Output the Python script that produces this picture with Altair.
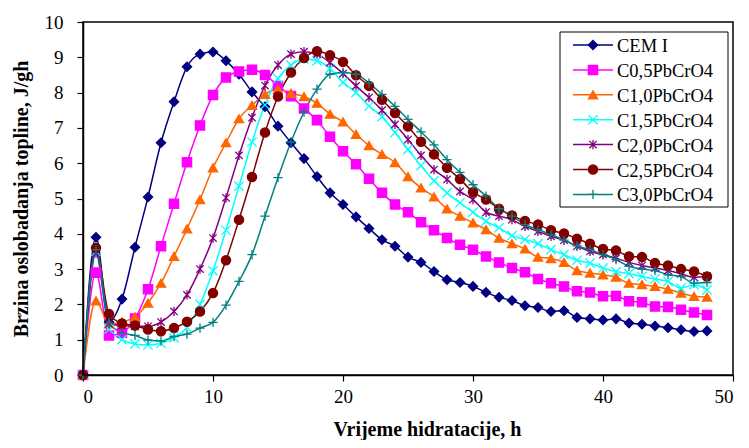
import altair as alt
import pandas as pd

hours = list(range(49))

series_names = ["CEM I", "C0,5PbCrO4", "C1,0PbCrO4", "C1,5PbCrO4",
                "C2,0PbCrO4", "C2,5PbCrO4", "C3,0PbCrO4"]

cem1 = [0, 3.9, 1.5, 2.15, 3.62, 5.04, 6.58, 7.74, 8.73, 9.09, 9.15, 8.9, 8.52, 8.02, 7.6,
        7.05, 6.58, 6.13, 5.62, 5.16, 4.83, 4.48, 4.15, 3.83, 3.65, 3.34, 3.19, 2.93, 2.7,
        2.62, 2.51, 2.34, 2.2, 2.11, 1.96, 1.91, 1.8, 1.82, 1.63, 1.59, 1.56, 1.59, 1.47,
        1.44, 1.39, 1.34, 1.28, 1.23, 1.25]
c05 = [0, 2.9, 1.12, 1.2, 1.6, 2.43, 3.65, 4.85, 6.03, 7.07, 7.93, 8.43, 8.6, 8.65, 8.5,
       8.19, 7.9, 7.55, 7.22, 6.75, 6.34, 5.97, 5.56, 5.16, 4.83, 4.61, 4.33, 4.1, 3.88,
       3.69, 3.55, 3.36, 3.19, 3.03, 2.91, 2.72, 2.6, 2.51, 2.37, 2.34, 2.23, 2.24, 2.09,
       2.06, 1.94, 1.93, 1.85, 1.77, 1.7]
c10 = [0, 2.1, 1.45, 1.5, 1.65, 2.04, 2.6, 3.36, 4.14, 4.97, 5.87, 6.58, 7.26, 7.64, 7.95,
       8.1, 7.98, 7.89, 7.7, 7.39, 7.17, 6.82, 6.5, 6.25, 6.02, 5.62, 5.3, 5.05, 4.71,
       4.5, 4.31, 4.12, 3.88, 3.72, 3.57, 3.34, 3.3, 3.19, 2.96, 2.89, 2.84, 2.77, 2.6,
       2.56, 2.51, 2.43, 2.32, 2.23, 2.21]
c15 = [0, 3.5, 1.3, 1.0, 0.88, 0.85, 0.9, 1.05, 1.35, 2.0, 2.95, 4.1, 5.35, 6.6, 7.65,
       8.4, 8.78, 8.95, 8.9, 8.68, 8.29, 8.0, 7.62, 7.32, 6.87, 6.39, 5.93, 5.5, 5.16,
       4.88, 4.61, 4.36, 4.17, 3.95, 3.84, 3.72, 3.55, 3.41, 3.25, 3.17, 3.03, 2.93, 2.87,
       2.79, 2.72, 2.65, 2.46, 2.56, 2.41]
c20 = [0, 3.45, 1.45, 1.4, 1.38, 1.38, 1.5, 1.8, 2.27, 3.0, 3.88, 5.02, 6.22, 7.29, 8.2,
       8.78, 9.09, 9.16, 9.09, 8.85, 8.54, 8.19, 7.86, 7.5, 7.1, 6.67, 6.22, 5.82, 5.54,
       5.2, 4.97, 4.61, 4.5, 4.4, 4.21, 4.07, 3.93, 3.82, 3.65, 3.5, 3.41, 3.31, 3.19,
       3.1, 3.03, 2.96, 2.87, 2.77, 2.8]
c25 = [0, 3.6, 1.73, 1.46, 1.4, 1.29, 1.24, 1.33, 1.51, 1.8, 2.32, 3.25, 4.4, 5.61, 6.87,
       7.89, 8.57, 8.98, 9.17, 9.06, 8.87, 8.49, 8.19, 7.8, 7.42, 7.04, 6.61, 6.25, 5.87,
       5.55, 5.18, 4.97, 4.71, 4.52, 4.36, 4.26, 4.1, 4.01, 3.86, 3.72, 3.57, 3.53, 3.36,
       3.34, 3.17, 3.1, 3.0, 2.93, 2.79]
c30 = [0, 3.55, 1.47, 1.2, 1.12, 0.99, 0.96, 1.09, 1.16, 1.33, 1.49, 1.98, 2.65, 3.41, 4.5,
       5.59, 6.6, 7.45, 8.1, 8.52, 8.57, 8.52, 8.27, 7.95, 7.61, 7.24, 6.89, 6.52, 6.1,
       5.74, 5.39, 5.07, 4.71, 4.5, 4.26, 4.12, 3.98, 3.82, 3.66, 3.55, 3.41, 3.27, 3.08,
       3.0, 2.96, 2.84, 2.79, 2.6, 2.62]

all_series = [cem1, c05, c10, c15, c20, c25, c30]

colors = ["#000080", "#FF00FF", "#FF6600", "#00FFFF", "#800080", "#800000", "#008080"]

X_PATH = "M-1,-1L1,1M-1,1L1,-1"
AST_PATH = "M-0.8,-0.8L0.8,0.8M-0.8,0.8L0.8,-0.8M0,-1L0,1"
PLUS_PATH = "M0,-1L0,1M-1,0L1,0"
shapes = ["diamond", "square", "triangle-up", X_PATH, AST_PATH, "circle", PLUS_PATH]

rows = []
for name, vals in zip(series_names, all_series):
    for t, v in zip(hours, vals):
        rows.append({"t": t, "v": v, "s": name})
df = pd.DataFrame(rows)

FONT = "Liberation Serif"
W, H = 650, 353
MSIZE = 85

x_enc = alt.X("t:Q",
              scale=alt.Scale(domain=[0, 50], nice=False),
              axis=alt.Axis(values=[0, 10, 20, 30, 40, 50], title="Vrijeme hidratacije, h",
                            grid=False, tickSize=6, labelPadding=6, titleX=344,
                            titlePadding=13))
y_enc = alt.Y("v:Q",
              scale=alt.Scale(domain=[0, 10], nice=False),
              axis=alt.Axis(values=list(range(11)), title="Brzina oslobadanja topline, J/gh",
                            grid=False, tickSize=6, labelPadding=14, titlePadding=13))

lines = alt.Chart(df).mark_line(strokeWidth=1.5, interpolate="monotone").encode(
    x=x_enc, y=y_enc,
    color=alt.Color("s:N", scale=alt.Scale(domain=series_names, range=colors), legend=None),
    detail="s:N",
)

points = alt.Chart(df).mark_point(filled=True, opacity=1, size=MSIZE, strokeWidth=1.3).encode(
    x=x_enc, y=y_enc,
    fill=alt.Fill("s:N", scale=alt.Scale(domain=series_names, range=colors), legend=None),
    stroke=alt.Stroke("s:N", scale=alt.Scale(domain=series_names, range=colors), legend=None),
    shape=alt.Shape("s:N", scale=alt.Scale(domain=series_names, range=shapes), legend=None),
)

one = pd.DataFrame({"k": [0]})

# plot frame
frame = alt.Chart(one).mark_rect(fillOpacity=0, stroke="black", strokeWidth=1.5).encode(
    x=alt.value(0), x2=alt.value(W), y=alt.value(0), y2=alt.value(H))

# legend box and entries
box = alt.Chart(one).mark_rect(fill="white", stroke="black", strokeWidth=1).encode(
    x=alt.value(477), x2=alt.value(645), y=alt.value(10), y2=alt.value(185))

legend_layers = [box]
for i, (name, col, shp) in enumerate(zip(series_names, colors, shapes)):
    ly = 23 + i * 24.9
    legend_layers.append(
        alt.Chart(one).mark_rule(color=col, strokeWidth=1.5).encode(
            x=alt.value(490), x2=alt.value(530), y=alt.value(ly)))
    legend_layers.append(
        alt.Chart(one).mark_point(filled=True, opacity=1, size=MSIZE, strokeWidth=1.3,
                                  shape=shp, fill=col, stroke=col).encode(
            x=alt.value(510), y=alt.value(ly)))
    legend_layers.append(
        alt.Chart(one).mark_text(align="left", baseline="middle", font=FONT,
                                 fontSize=18.5, color="black", text=name).encode(
            x=alt.value(534), y=alt.value(ly + 1)))

chart = alt.layer(lines, points, frame, *legend_layers).properties(
    width=W, height=H,
    padding={"left": 75, "top": 14, "right": 8, "bottom": 65},
    autosize=alt.AutoSizeParams(type="none"),
    background="white",
).configure_view(
    stroke=None
).configure_axis(
    labelFont=FONT, labelFontSize=19, labelColor="black",
    titleFont=FONT, titleFontSize=20, titleFontWeight="bold", titleColor="black",
    domainColor="black", domainWidth=1.5, tickColor="black", tickWidth=1.2,
)

chart.save("out.html", embed_options={"renderer": "svg", "actions": False})
